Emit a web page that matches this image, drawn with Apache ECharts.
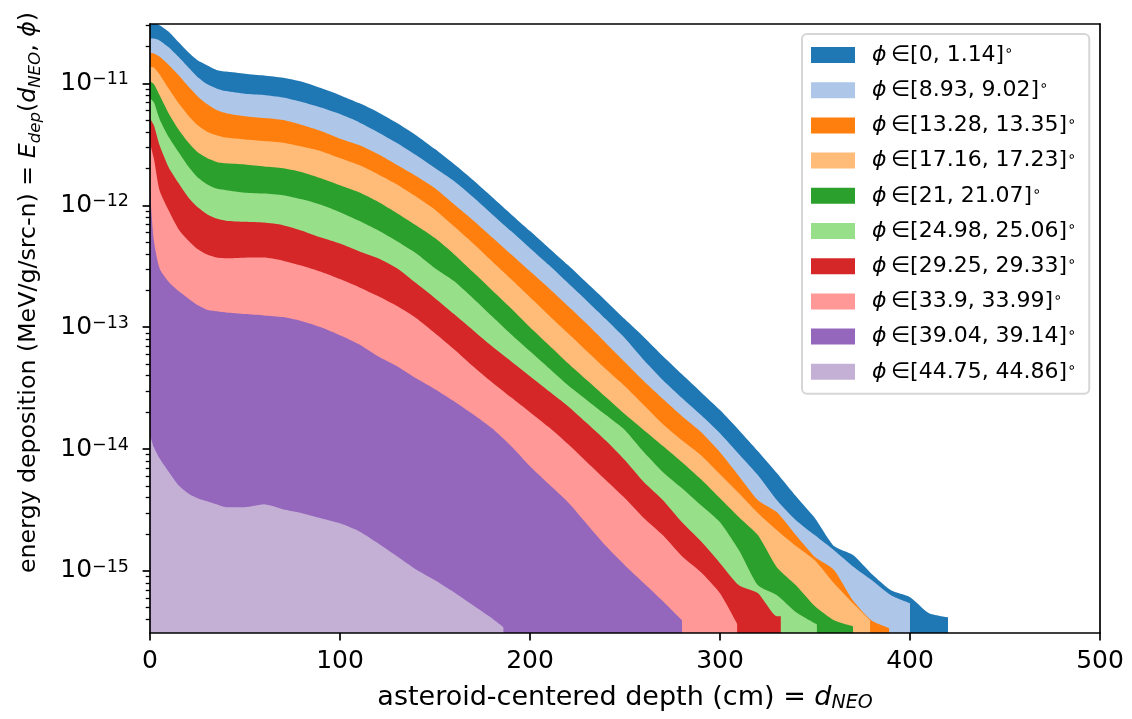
<!DOCTYPE html>
<html>
<head>
<meta charset="utf-8">
<title>energy deposition vs depth</title>
<script src="https://cdn.jsdelivr.net/npm/echarts@6/dist/echarts.min.js"></script>
<style>
  html, body { margin: 0; padding: 0; background: #fff; }
  #main { width: 1132px; height: 719px; }
</style>
</head>
<body>
<div id="main"></div>
<script>
// depth grid (cm) the curves were read on; the last value of each list sits at that series' end depth
const depth = [0, 2, 5, 10, 15, 20, 25, 30, 35, 40, 50, 60, 70, 80, 90, 100, 110, 120, 130, 140,
  150, 160, 170, 180, 190, 200, 210, 220, 230, 240, 250, 260, 270, 280, 290, 300, 310, 320, 330, 340,
  350, 360, 370, 380, 390, 400, 410, 420]
const endDepth = [420, 400, 389, 379, 370, 351, 332, 309, 280, 186]

// phi bins (deg)
const phiLow = [0, 8.93, 13.28, 17.16, 21, 24.98, 29.25, 33.9, 39.04, 44.75]
const phiHigh = [1.14, 9.02, 13.35, 17.23, 21.07, 25.06, 29.33, 33.99, 39.14, 44.86]

const colors = ['#1f77b4', '#aec7e8', '#ff7f0e', '#ffbb78', '#2ca02c', '#98df8a', '#d62728', '#ff9896', '#9467bd', '#c5b0d5']

// energy deposition (MeV/g/src-n)
const edep0 = [3.1e-11, 3.1e-11, 3.0e-11, 2.64e-11, 2.18e-11, 1.81e-11, 1.55e-11, 1.41e-11, 1.29e-11, 1.25e-11,
  1.20e-11, 1.16e-11, 1.11e-11, 1.03e-11, 9.15e-12, 8.0e-12, 6.89e-12, 5.81e-12, 4.73e-12, 3.76e-12,
  2.89e-12, 2.18e-12, 1.61e-12, 1.17e-12, 8.46e-13, 6.14e-13, 4.45e-13, 3.23e-13, 2.30e-13, 1.64e-13,
  1.16e-13, 8.28e-14, 5.78e-14, 4.11e-14, 2.93e-14, 2.09e-14, 1.43e-14, 9.6e-15, 6.33e-15, 4.10e-15,
  2.71e-15, 1.60e-15, 1.35e-15, 9.4e-16, 6.94e-16, 6.09e-16, 4.5e-16,
  4.17e-16]
const edep1 = [2.34e-11, 2.33e-11, 2.25e-11, 1.97e-11, 1.65e-11, 1.36e-11, 1.13e-11, 9.88e-12, 9.10e-12, 8.64e-12,
  8.21e-12, 8.02e-12, 7.65e-12, 7.03e-12, 6.33e-12, 5.60e-12, 4.81e-12, 3.98e-12, 3.24e-12, 2.58e-12,
  2.02e-12, 1.58e-12, 1.17e-12, 8.46e-13, 6.14e-13, 4.45e-13, 3.23e-13, 2.30e-13, 1.64e-13, 1.16e-13,
  8.12e-14, 5.36e-14, 3.67e-14, 2.62e-14, 1.90e-14, 1.35e-14, 9.07e-15, 6.10e-15, 3.81e-15, 2.61e-15,
  1.96e-15, 1.48e-15, 1.09e-15, 8.39e-16, 6.32e-16,
  5.43e-16]
const edep2 = [1.78e-11, 1.76e-11, 1.66e-11, 1.41e-11, 1.17e-11, 9.50e-12, 7.86e-12, 6.76e-12, 6.04e-12, 5.70e-12,
  5.38e-12, 5.19e-12, 5.00e-12, 4.55e-12, 4.06e-12, 3.52e-12, 3.12e-12, 2.63e-12, 2.14e-12, 1.74e-12,
  1.38e-12, 1.02e-12, 7.55e-13, 5.48e-13, 3.97e-13, 2.88e-13, 2.09e-13, 1.49e-13, 1.06e-13, 7.39e-14,
  5.16e-14, 3.60e-14, 2.57e-14, 1.86e-14, 1.38e-14, 9.42e-15, 5.99e-15, 3.81e-15, 3.03e-15, 1.96e-15,
  1.30e-15, 1.02e-15, 5.74e-16, 3.9e-16,
  3.4e-16]
const edep3 = [1.37e-11, 1.35e-11, 1.19e-11, 8.98e-12, 6.89e-12, 5.49e-12, 4.55e-12, 4.02e-12, 3.76e-12, 3.59e-12,
  3.46e-12, 3.36e-12, 3.26e-12, 3.03e-12, 2.78e-12, 2.44e-12, 2.14e-12, 1.80e-12, 1.48e-12, 1.18e-12,
  9.21e-13, 6.74e-13, 4.89e-13, 3.48e-13, 2.48e-13, 1.76e-13, 1.25e-13, 8.93e-14, 6.35e-14, 4.52e-14,
  3.28e-14, 2.29e-14, 1.60e-14, 1.18e-14, 8.90e-15, 6.21e-15, 4.34e-15, 2.98e-15, 2.16e-15, 1.60e-15,
  1.22e-15, 7.93e-16, 5.43e-16,
  3.94e-16]
const edep4 = [1.04e-11, 9.88e-12, 8.02e-12, 5.60e-12, 4.18e-12, 3.30e-12, 2.73e-12, 2.44e-12, 2.27e-12, 2.21e-12,
  2.16e-12, 2.08e-12, 2.01e-12, 1.87e-12, 1.67e-12, 1.46e-12, 1.28e-12, 1.07e-12, 8.62e-13, 6.87e-13,
  5.38e-13, 3.97e-13, 2.83e-13, 2.01e-13, 1.43e-13, 1.00e-13, 7.12e-14, 5.06e-14, 3.67e-14, 2.66e-14,
  1.93e-14, 1.43e-14, 1.06e-14, 7.80e-15, 5.65e-15, 3.95e-15, 2.76e-15, 1.96e-15, 1.07e-15, 7.63e-16,
  5.13e-16, 3.94e-16,
  3.52e-16]
const edep5 = [7.53e-12, 7.03e-12, 5.11e-12, 3.59e-12, 2.73e-12, 2.10e-12, 1.70e-12, 1.49e-12, 1.37e-12, 1.33e-12,
  1.27e-12, 1.25e-12, 1.21e-12, 1.12e-12, 1.01e-12, 8.78e-13, 7.48e-13, 6.25e-13, 5.08e-13, 4.05e-13,
  3.05e-13, 2.39e-13, 1.73e-13, 1.23e-13, 8.76e-14, 6.35e-14, 4.61e-14, 3.34e-14, 2.52e-14, 1.90e-14,
  1.43e-14, 9.42e-15, 6.46e-15, 4.77e-15, 3.46e-15, 2.51e-15, 1.48e-15, 7.63e-16, 6.32e-16, 4.59e-16,
  3.65e-16]
const edep6 = [5.16e-12, 4.55e-12, 3.12e-12, 2.02e-12, 1.52e-12, 1.17e-12, 9.66e-13, 8.46e-13, 7.80e-13, 7.48e-13,
  7.32e-13, 7.21e-13, 6.87e-13, 6.19e-13, 5.43e-13, 4.85e-13, 4.20e-13, 3.68e-13, 3.05e-13, 2.30e-13,
  1.73e-13, 1.28e-13, 9.45e-14, 6.98e-14, 5.26e-14, 3.96e-14, 2.98e-14, 2.25e-14, 1.63e-14, 1.17e-14,
  8.10e-15, 5.34e-15, 3.81e-15, 2.51e-15, 1.75e-15, 1.16e-15, 7.63e-16, 6.56e-16, 4.25e-16,
  4.25e-16]
const edep7 = [3.22e-12, 2.44e-12, 1.33e-12, 8.96e-13, 6.37e-13, 5.17e-13, 4.37e-13, 3.94e-13, 3.73e-13, 3.68e-13,
  3.72e-13, 3.73e-13, 3.51e-13, 3.19e-13, 2.85e-13, 2.48e-13, 2.13e-13, 1.80e-13, 1.49e-13, 1.19e-13,
  8.93e-14, 6.60e-14, 4.79e-14, 3.54e-14, 2.66e-14, 2.01e-14, 1.51e-14, 1.10e-14, 7.80e-15, 5.55e-15,
  3.95e-15, 2.71e-15, 1.96e-15, 1.32e-15, 9.76e-16, 6.56e-16,
  3.7e-16]
const edep8 = [1.33e-12, 5.17e-13, 3.05e-13, 2.34e-13, 1.98e-13, 1.73e-13, 1.52e-13, 1.39e-13, 1.35e-13, 1.32e-13,
  1.28e-13, 1.25e-13, 1.21e-13, 1.12e-13, 1.00e-13, 8.60e-14, 7.25e-14, 5.78e-14, 4.79e-14, 3.81e-14,
  3.10e-14, 2.47e-14, 1.93e-14, 1.48e-14, 1.06e-14, 7.23e-15, 5.14e-15, 3.66e-15, 2.42e-15, 1.60e-15,
  1.11e-15, 7.93e-16, 5.64e-16,
  3.94e-16]
const edep9 = [1.30e-14, 1.04e-14, 8.41e-15, 6.46e-15, 5.05e-15, 4.34e-15, 3.95e-15, 3.73e-15, 3.52e-15, 3.33e-15,
  3.33e-15, 3.52e-15, 3.21e-15, 2.98e-15, 2.71e-15, 2.46e-15, 2.12e-15, 1.69e-15, 1.32e-15, 1.03e-15,
  8.39e-16, 6.69e-16, 5.23e-16, 4.09e-16,
  3.45e-16]
const edep = [edep0, edep1, edep2, edep3, edep4, edep5, edep6, edep7, edep8, edep9]

const yMin = 3.1e-16
const yMax = 3.07e-11
const yTicks = [1e-15, 1e-14, 1e-13, 1e-12, 1e-11]

// minor log ticks 2..9 x 10^n inside the axis range
const yMinorTicks = []
for (let e = -16; e <= -11; e++) {
  for (let k = 2; k <= 9; k++) {
    const v = k * Math.pow(10, e)
    if (v >= yMin && v <= yMax) yMinorTicks.push(v)
  }
}

const FONT = 'DejaVu Sans'
const legendNames = phiLow.map((lo, i) => `ϕ ∈ [${lo}, ${phiHigh[i]}]°`)

function toPairs(vals, end) {
  const pts = vals.slice(0, -1).map((v, i) => [depth[i], v])
  pts.push([end, vals[vals.length - 1]])
  return pts
}

const series = edep.map((vals, i) => ({
  name: legendNames[i],
  type: 'line',
  data: toPairs(vals, endDepth[i]),
  xAxisIndex: 0,
  yAxisIndex: 0,
  symbol: 'none',
  showSymbol: false,
  smooth: 0.2,
  color: colors[i],
  itemStyle: { color: colors[i] },
  lineStyle: { width: 0, opacity: 0 },
  areaStyle: { color: colors[i], opacity: 1, origin: 'start' },
  emphasis: { disabled: true },
  silent: true,
  z: 2
}))

const chart = echarts.init(document.getElementById('main'), null, { renderer: 'canvas' })

chart.setOption({
  animation: false,
  backgroundColor: '#fff',
  textStyle: { fontFamily: FONT },
  grid: {
    left: 150, top: 24, right: 32, bottom: 86,
    containLabel: false,
    outerBoundsMode: 'none'
  },
  legend: {
    orient: 'vertical',
    left: 802,
    top: 34,
    padding: [10, 13, 11, 9],
    itemGap: 13.2,
    itemWidth: 44,
    itemHeight: 16,
    icon: 'rect',
    backgroundColor: 'rgba(255,255,255,0.8)',
    borderColor: '#d6d6d6',
    borderWidth: 2,
    borderRadius: 5,
    selectedMode: false,
    data: legendNames,
    itemStyle: { borderWidth: 0 },
    formatter: (name) => {
      const i = legendNames.indexOf(name)
      return `{sp| }{phi|ϕ}{t|\u2009∈[${phiLow[i]}, ${phiHigh[i]}]}{deg|∘}`
    },
    textStyle: {
      fontFamily: FONT,
      fontSize: 22,
      color: '#000',
      rich: {
        sp: { width: 12, fontSize: 22, lineHeight: 22 },
        phi: { fontFamily: FONT, fontSize: 22, fontStyle: 'italic', color: '#000', lineHeight: 22 },
        t: { fontFamily: FONT, fontSize: 22, color: '#000', lineHeight: 22 },
        deg: { fontFamily: FONT, fontSize: 14.5, color: '#000', verticalAlign: 'top', lineHeight: 14 }
      }
    }
  },
  xAxis: [
    {
      type: 'value',
      min: 0,
      max: 500,
      interval: 100,
      position: 'bottom',
      z: 10,
      name: '{n|asteroid-centered depth (cm) = }{i|d}{s|NEO}',
      nameLocation: 'middle',
      nameGap: 50,
      nameTextStyle: {
        fontFamily: FONT,
        fontSize: 27,
        color: '#000',
        rich: {
          n: { fontFamily: FONT, fontSize: 27, color: '#000', lineHeight: 30 },
          i: { fontFamily: FONT, fontSize: 27, fontStyle: 'italic', color: '#000', lineHeight: 30 },
          s: { fontFamily: FONT, fontSize: 19, fontStyle: 'italic', color: '#000', verticalAlign: 'bottom', lineHeight: 18 }
        }
      },
      axisLine: { show: true, onZero: false, lineStyle: { color: '#000', width: 1.7 } },
      axisTick: { show: true, inside: false, length: 7.4, lineStyle: { color: '#000', width: 1.7 } },
      axisLabel: { show: true, margin: 16, fontFamily: FONT, fontSize: 25, color: '#000' },
      splitLine: { show: false },
      minorTick: { show: false }
    },
    {
      type: 'value',
      min: 0,
      max: 500,
      position: 'top',
      z: 10,
      axisLine: { show: true, onZero: false, lineStyle: { color: '#000', width: 1.7 } },
      axisTick: { show: false },
      axisLabel: { show: false },
      splitLine: { show: false }
    }
  ],
  yAxis: [
    {
      type: 'log',
      logBase: 10,
      min: yMin,
      max: yMax,
      position: 'left',
      z: 10,
      name: '{n|energy deposition (MeV/g/src-n) = }{i|E}{s|dep}{n|(}{i|d}{s|NEO}{n|, }{i|ϕ}{n|)}',
      nameLocation: 'middle',
      nameGap: 106,
      nameRotate: 90,
      nameTextStyle: {
        fontFamily: FONT,
        fontSize: 23.7,
        color: '#000',
        padding: [0, 0, 0, 72],
        rich: {
          n: { fontFamily: FONT, fontSize: 23.7, color: '#000', lineHeight: 30 },
          i: { fontFamily: FONT, fontSize: 23.7, fontStyle: 'italic', color: '#000', lineHeight: 30 },
          s: { fontFamily: FONT, fontSize: 16.6, fontStyle: 'italic', color: '#000', verticalAlign: 'bottom', lineHeight: 18 }
        }
      },
      axisLine: { show: true, onZero: false, lineStyle: { color: '#000', width: 1.7 } },
      axisTick: { show: true, inside: false, length: 7.4, lineStyle: { color: '#000', width: 1.7 }, customValues: yTicks },
      axisLabel: {
        show: true,
        margin: 21,
        customValues: yTicks,
        formatter: (v) => {
          const e = Math.round(Math.log10(v))
          return '{b|10}{sup|' + String(e).replace('-', '\u2212') + '}'
        },
        rich: {
          b: { fontFamily: FONT, fontSize: 25, color: '#000', lineHeight: 26 },
          sup: { fontFamily: FONT, fontSize: 17.5, color: '#000', verticalAlign: 'top', lineHeight: 18 }
        }
      },
      splitLine: { show: false },
      minorTick: { show: false }
    },
    {
      type: 'log',
      logBase: 10,
      min: yMin,
      max: yMax,
      position: 'left',
      z: 10,
      axisLine: { show: false },
      axisTick: { show: true, inside: false, length: 4.3, lineStyle: { color: '#000', width: 1.3 }, customValues: yMinorTicks },
      axisLabel: { show: false },
      splitLine: { show: false }
    },
    {
      type: 'value',
      min: 0,
      max: 1,
      position: 'right',
      z: 10,
      axisLine: { show: true, onZero: false, lineStyle: { color: '#000', width: 1.7 } },
      axisTick: { show: false },
      axisLabel: { show: false },
      splitLine: { show: false }
    }
  ],
  series: series
})
</script>
</body>
</html>
